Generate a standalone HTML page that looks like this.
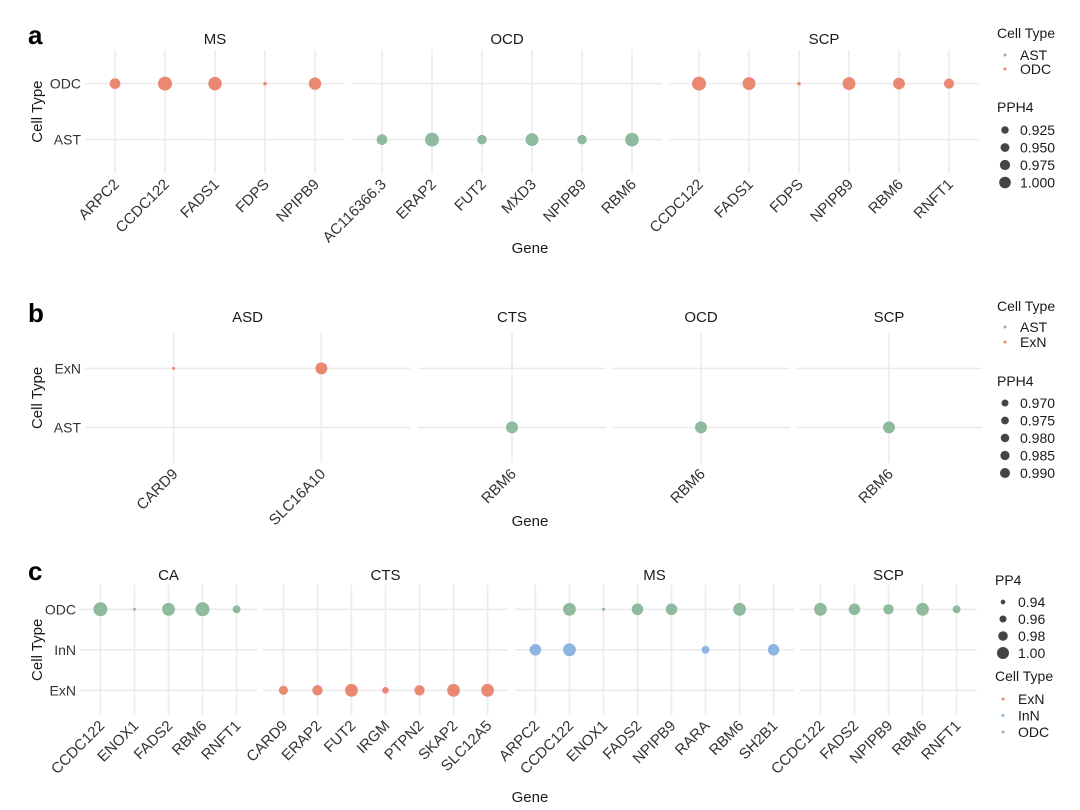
<!DOCTYPE html>
<html><head><meta charset="utf-8"><style>
body{margin:0;background:#fff;}
svg{display:block;font-family:"Liberation Sans",Arial,sans-serif;}
</style></head><body>
<svg id="chart" width="1080" height="810" viewBox="0 0 1080 810"></svg>
<script>
// ---------- Panel a data ----------
const aFacets = ["MS","OCD","SCP"];
const aGenes = [["ARPC2","CCDC122","FADS1","FDPS","NPIPB9"],["AC116366.3","ERAP2","FUT2","MXD3","NPIPB9","RBM6"],["CCDC122","FADS1","FDPS","NPIPB9","RBM6","RNFT1"]];
const aCells = [["ODC","ODC","ODC","ODC","ODC"],["AST","AST","AST","AST","AST","AST"],["ODC","ODC","ODC","ODC","ODC","ODC"]];
const aValues = [[0.94,1.0,0.99,0.81,0.97],[0.94,1.0,0.92,0.98,0.92,0.995],[1.0,0.98,0.81,0.98,0.96,0.93]];
const aLevels = ["ODC","AST"];
const aSizeTicks = [0.925,0.950,0.975,1.000];
const aSizeLabels = ["0.925","0.950","0.975","1.000"];
const aColorLevels = ["AST","ODC"];
// ---------- Panel b data ----------
const bFacets = ["ASD","CTS","OCD","SCP"];
const bGenes = [["CARD9","SLC16A10"],["RBM6"],["RBM6"],["RBM6"]];
const bCells = [["ExN","ExN"],["AST"],["AST"],["AST"]];
const bValues = [[0.93,0.99],[0.99],[0.99],[0.99]];
const bLevels = ["ExN","AST"];
const bSizeTicks = [0.970,0.975,0.980,0.985,0.990];
const bSizeLabels = ["0.970","0.975","0.980","0.985","0.990"];
const bColorLevels = ["AST","ExN"];
// ---------- Panel c data ----------
const cFacets = ["CA","CTS","MS","SCP"];
const cGenes = [["CCDC122","ENOX1","FADS2","RBM6","RNFT1"],["CARD9","ERAP2","FUT2","IRGM","PTPN2","SKAP2","SLC12A5"],["ARPC2","CCDC122","ENOX1","FADS2","NPIPB9","RARA","RBM6","SH2B1"],["CCDC122","FADS2","NPIPB9","RBM6","RNFT1"]];
const cPoints = [
 [["CCDC122","ODC",1.0],["ENOX1","ODC",0.91],["FADS2","ODC",0.99],["RBM6","ODC",1.0],["RNFT1","ODC",0.95]],
 [["CARD9","ExN",0.96],["ERAP2","ExN",0.97],["FUT2","ExN",0.99],["IRGM","ExN",0.94],["PTPN2","ExN",0.97],["SKAP2","ExN",0.99],["SLC12A5","ExN",0.99]],
 [["ARPC2","InN",0.98],["CCDC122","InN",0.99],["CCDC122","ODC",0.99],["ENOX1","ODC",0.91],["FADS2","ODC",0.98],["NPIPB9","ODC",0.98],["RARA","InN",0.95],["RBM6","ODC",0.99],["SH2B1","InN",0.98]],
 [["CCDC122","ODC",0.99],["FADS2","ODC",0.98],["NPIPB9","ODC",0.97],["RBM6","ODC",0.99],["RNFT1","ODC",0.95]]
];
const cLevels = ["ODC","InN","ExN"];
const cSizeTicks = [0.94,0.96,0.98,1.00];
const cSizeLabels = ["0.94","0.96","0.98","1.00"];
const cColorLevels = ["ExN","InN","ODC"];

const COL = {ODC:"#EA8872",AST:"#90BA9E",ExN:"#EA8872",InN:"#8DB5DF"};
const COLc = {ODC:"#90BA9E",InN:"#8DB5DF",ExN:"#EA8872"};
const NS="http://www.w3.org/2000/svg";
const svg=document.getElementById('chart');
function el(tag,attrs,parent,text){const e=document.createElementNS(NS,tag);for(const k in attrs)e.setAttribute(k,attrs[k]);if(text!==undefined)e.textContent=text;(parent||svg).appendChild(e);return e;}
function sizeScale(d0,d1,r0,r1){return v=>r0+(Math.max(d0,Math.min(d1,v))-d0)/(d1-d0)*(r1-r0);}

function panel(o){
  const g=el('g',{});
  
  
  const yPos=lv=>o.yTop+o.yStep*(o.levels.indexOf(lv)+0.6);
  const yBot=o.yTop+o.yStep*(o.levels.length-1+1.2);
  const letter=el('text',{x:o.letterX,y:o.stripY,'font-size':26,'font-weight':'bold',fill:'#000'},g,o.letter);
  
  
  o.facets.forEach((f,fi)=>{
    const [x0,x1]=o.ranges[fi];const genes=o.genes[fi];const n=genes.length;
    const step=(x1-x0)/(n-1+1.2);
    const xPos=gn=>x0+step*(genes.indexOf(gn)+0.6);
    const fg=el('g',{},g);
    
    
    const st=el('text',{x:(x0+x1)/2,y:o.stripY,'font-size':15,'text-anchor':'middle',fill:'#1a1a1a'},fg,f);
    
    
    o.levels.forEach(lv=>{el('line',{x1:x0,x2:x1,y1:yPos(lv),y2:yPos(lv),stroke:'#ebebeb','stroke-width':1.6},fg);});
    genes.forEach(gn=>{
      const x=xPos(gn);
      el('line',{x1:x,x2:x,y1:o.yTop,y2:yBot,stroke:'#ebebeb','stroke-width':1.6},fg);
      const t=el('text',{x:x+5,y:yBot+12,'font-size':15,'text-anchor':'end',fill:'#333',transform:`rotate(-45 ${x+5} ${yBot+12})`},fg,gn);
      
      
    });
    o.points[fi].forEach(p=>{
      const c=el('circle',{cx:xPos(p[0]),cy:yPos(p[1]),r:o.size(p[2]),fill:o.colors[p[1]]},fg);
      
      
    });
  });
  o.levels.forEach(lv=>{
    const t=el('text',{x:o.ranges[0][0]-4,y:yPos(lv)+5,'font-size':14,'text-anchor':'end',fill:'#333'},g,lv);
    
    
  });
  const yc=(o.yTop+yBot)/2;
  const yt=el('text',{x:o.yTitleX,y:yc,'font-size':15,'text-anchor':'middle',fill:'#1a1a1a',transform:`rotate(-90 ${o.yTitleX} ${yc})`},g,'Cell Type');
  
  
  const xt=el('text',{x:530,y:o.geneY,'font-size':15,'text-anchor':'middle',fill:'#1a1a1a'},g,'Gene');
  
  
  o.legends.forEach(L=>{
    const lg=el('g',{},g);
    
    
    el('text',{x:L.x,y:L.y,'font-size':14,fill:'#1a1a1a'},lg,L.title);
    L.items.forEach((it,i)=>{
      const yy=L.y+L.first+i*L.step;
      const dot=el('circle',{cx:L.x+8,cy:yy-5,r:it.r,fill:it.fill},lg);
      
      
      const tx=el('text',{x:L.x+23,y:yy,'font-size':14,fill:'#1a1a1a'},lg,it.label);
      
      
    });
  });
}

const sA=sizeScale(0.80,1.0,1.5,7);
panel({name:'panel-a',letter:'a',letterX:28,stripY:44,yTop:50,yStep:56,yTitleX:42,geneY:253,
  facets:aFacets,genes:aGenes,levels:aLevels,ranges:[[85,345],[352,662],[669,979]],size:sA,colors:COL,
  points:aGenes.map((gs,fi)=>gs.map((gn,i)=>[gn,aCells[fi][i],aValues[fi][i]])),
  legends:[{title:'Cell Type',x:997,y:38,first:22,step:14,items:aColorLevels.map(l=>({label:l,r:1.5,fill:COL[l]}))},
           {title:'PPH4',x:997,y:112,first:23,step:17.5,items:aSizeTicks.map((v,i)=>({label:aSizeLabels[i],r:sA(v)-1.2,fill:'#444'}))}]});

const sB=sizeScale(0.93,0.99,1.5,6);
panel({name:'panel-b',letter:'b',letterX:28,stripY:322,yTop:333,yStep:59,yTitleX:42,geneY:526,
  facets:bFacets,genes:bGenes,levels:bLevels,ranges:[[85,410],[418,606],[612,790],[796,982]],size:sB,colors:COL,
  points:bGenes.map((gs,fi)=>gs.map((gn,i)=>[gn,bCells[fi][i],bValues[fi][i]])),
  legends:[{title:'Cell Type',x:997,y:311,first:21,step:15,items:bColorLevels.map(l=>({label:l,r:1.5,fill:COL[l]}))},
           {title:'PPH4',x:997,y:386,first:22,step:17.5,items:bSizeTicks.map((v,i)=>({label:bSizeLabels[i],r:sB(v)-1,fill:'#444'}))}]});

const sC=sizeScale(0.91,1.0,1.5,7);
panel({name:'panel-c',letter:'c',letterX:28,stripY:580,yTop:585,yStep:40.5,yTitleX:42,geneY:802,
  facets:cFacets,genes:cGenes,levels:cLevels,ranges:[[80,257],[263,508],[515,794],[800,977]],size:sC,colors:COLc,
  points:cPoints,
  legends:[{title:'PP4',x:995,y:585,first:22,step:17,items:cSizeTicks.map((v,i)=>({label:cSizeLabels[i],r:sC(v)-1,fill:'#444'}))},
           {title:'Cell Type',x:995,y:681,first:23,step:16.5,items:cColorLevels.map(l=>({label:l,r:1.5,fill:COLc[l]}))}]});
</script>
</body></html>
